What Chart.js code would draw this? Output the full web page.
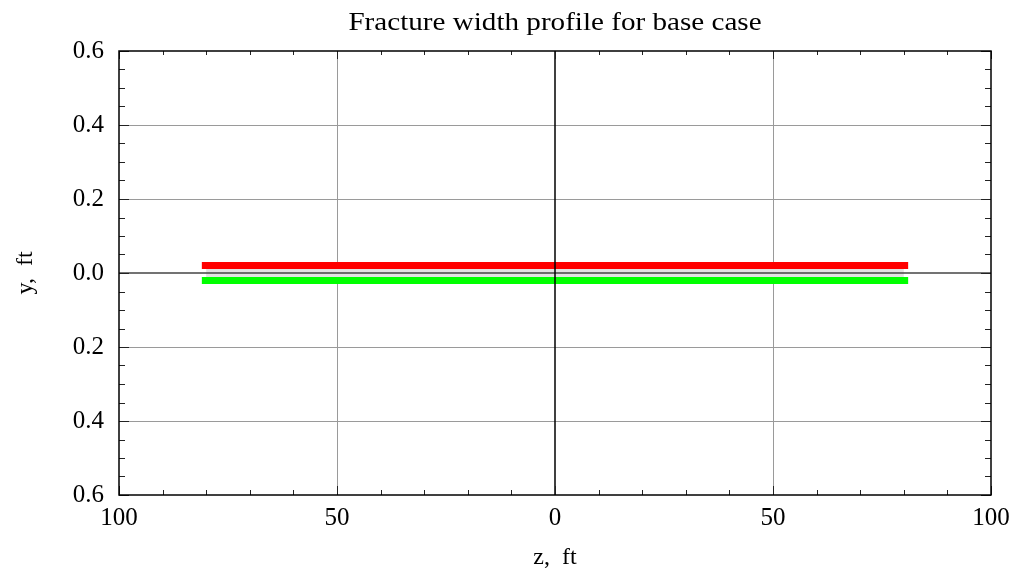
<!DOCTYPE html>
<html>
<head>
<meta charset="utf-8">
<script src="https://cdn.jsdelivr.net/npm/chart.js@4.4.1/dist/chart.umd.min.js"></script>
<style>
  html, body { margin: 0; padding: 0; background: #fff; }
  #wrap { width: 1013px; height: 573px; }
</style>
</head>
<body>
<div id="wrap"><canvas id="c" width="1013" height="573"></canvas></div>
<script>
// ---- data ----
const chartTitle = "Fracture width profile for base case";
const xAxisTitle = "z,  ft";
const yAxisTitle = "y,  ft";
const upperZ = [-81, 81];
const upperY = [0.02, 0.02];
const lowerZ = [-81, 81];
const lowerY = [-0.02, -0.02];
const centerZ = [-80, 80];
const centerY = [0, 0];
const xMajorTicks = [-100, -50, 0, 50, 100];
const yMajorTicks = [-0.6, -0.4, -0.2, 0, 0.2, 0.4, 0.6];
const xMinorStep = 10;
const yMinorStep = 0.05;

function pts(xs, ys) { return xs.map((x, i) => ({ x: x, y: ys[i] })); }

const SERIF = "'Liberation Serif', 'Times New Roman', serif";

const framePlugin = {
  id: 'framePlugin',
  afterDatasetsDraw(chart) {
    const ctx = chart.ctx;
    const xs = chart.scales.x, ys = chart.scales.y;
    const a = chart.chartArea;
    ctx.save();
    // zero axes
    ctx.lineWidth = 1.5;
    ctx.strokeStyle = '#444';
    const y0 = ys.getPixelForValue(0);
    ctx.beginPath(); ctx.moveTo(a.left, y0); ctx.lineTo(a.right, y0); ctx.stroke();
    ctx.strokeStyle = '#000';
    const x0 = xs.getPixelForValue(0);
    ctx.beginPath(); ctx.moveTo(x0, a.top); ctx.lineTo(x0, a.bottom); ctx.stroke();
    // ticks
    ctx.lineWidth = 1;
    ctx.strokeStyle = '#222';
    const xmin = xs.min, xmax = xs.max, ymin = ys.min, ymax = ys.max;
    const nx = Math.round((xmax - xmin) / xMinorStep);
    for (let i = 0; i <= nx; i++) {
      const v = xmin + i * xMinorStep;
      const major = xMajorTicks.some(m => Math.abs(m - v) < 1e-9);
      const p = Math.round(xs.getPixelForValue(v)) + 0.5;
      const Lb = major ? 9 : 5, Lt = major ? 8 : 4;
      ctx.beginPath();
      ctx.moveTo(p, a.bottom); ctx.lineTo(p, a.bottom - Lb);
      ctx.moveTo(p, a.top); ctx.lineTo(p, a.top + Lt);
      ctx.stroke();
    }
    const ny = Math.round((ymax - ymin) / yMinorStep);
    for (let i = 0; i <= ny; i++) {
      const v = ymin + i * yMinorStep;
      const major = yMajorTicks.some(m => Math.abs(m - v) < 1e-9);
      const p = Math.round(ys.getPixelForValue(v)) + 0.5;
      const L = major ? 10 : 6;
      ctx.beginPath();
      ctx.moveTo(a.left, p); ctx.lineTo(a.left + L, p);
      ctx.moveTo(a.right, p); ctx.lineTo(a.right - L, p);
      ctx.stroke();
    }
    // frame
    ctx.lineWidth = 1.5;
    ctx.strokeStyle = '#000';
    ctx.strokeRect(a.left, a.top, a.right - a.left, a.bottom - a.top);
    // title, centred over the plot area (reference glyphs are horizontally stretched)
    ctx.fillStyle = '#000';
    ctx.font = "26px " + SERIF;
    ctx.textAlign = 'center';
    ctx.textBaseline = 'alphabetic';
    const cx = (a.left + a.right) / 2;
    ctx.translate(cx, 30);
    ctx.scale(1.12, 1);
    ctx.fillText(chartTitle, 0, 0);
    ctx.restore();
  }
};

function gridColor(ctx) {
  const v = ctx.tick ? ctx.tick.value : 0;
  const s = ctx.scale;
  if (Math.abs(v) < 1e-9 || Math.abs(v - s.min) < 1e-9 || Math.abs(v - s.max) < 1e-9) return 'rgba(0,0,0,0)';
  return '#9a9a9a';
}

new Chart(document.getElementById('c'), {
  type: 'scatter',
  data: {
    datasets: [
      { label: 'center', data: pts(centerZ, centerY), showLine: true, borderColor: '#e2e2e2', borderWidth: 8, pointRadius: 0, borderCapStyle: 'butt', tension: 0 },
      { label: 'upper', data: pts(upperZ, upperY), showLine: true, borderColor: '#ff0000', borderWidth: 7, pointRadius: 0, borderCapStyle: 'butt', tension: 0 },
      { label: 'lower', data: pts(lowerZ, lowerY), showLine: true, borderColor: '#00ff00', borderWidth: 7, pointRadius: 0, borderCapStyle: 'butt', tension: 0 }
    ]
  },
  options: {
    responsive: false,
    animation: false,
    events: [],
    layout: { padding: { left: 0, right: 22, top: 51, bottom: 0 } },
    plugins: {
      legend: { display: false },
      tooltip: { enabled: false },
      title: { display: false }
    },
    scales: {
      x: {
        type: 'linear', min: -100, max: 100,
        ticks: {
          stepSize: 50, color: '#000', padding: 8,
          font: { family: SERIF, size: 25 },
          maxRotation: 0, autoSkip: false,
          callback: v => String(Math.abs(v))
        },
        grid: { color: gridColor, lineWidth: 1, drawTicks: false },
        border: { display: false },
        title: { display: true, text: xAxisTitle, color: '#000', font: { family: SERIF, size: 24, lineHeight: 1.2 }, padding: { top: 0, bottom: 1 } },
        afterFit: s => { s.height = 78; s.paddingLeft = 0; s.paddingRight = 0; }
      },
      y: {
        type: 'linear', min: -0.6, max: 0.6,
        ticks: {
          stepSize: 0.2, color: '#000', padding: 15,
          font: { family: SERIF, size: 25 },
          autoSkip: false,
          callback: v => Math.abs(v).toFixed(1)
        },
        grid: { color: gridColor, lineWidth: 1, drawTicks: false },
        border: { display: false },
        title: { display: true, text: yAxisTitle, color: '#000', font: { family: SERIF, size: 24, lineHeight: 1.2 }, padding: { top: 11, bottom: 0 } },
        afterFit: s => { s.width = 119; s.paddingTop = 0; s.paddingBottom = 0; }
      }
    }
  },
  plugins: [framePlugin]
});
</script>
</body>
</html>
